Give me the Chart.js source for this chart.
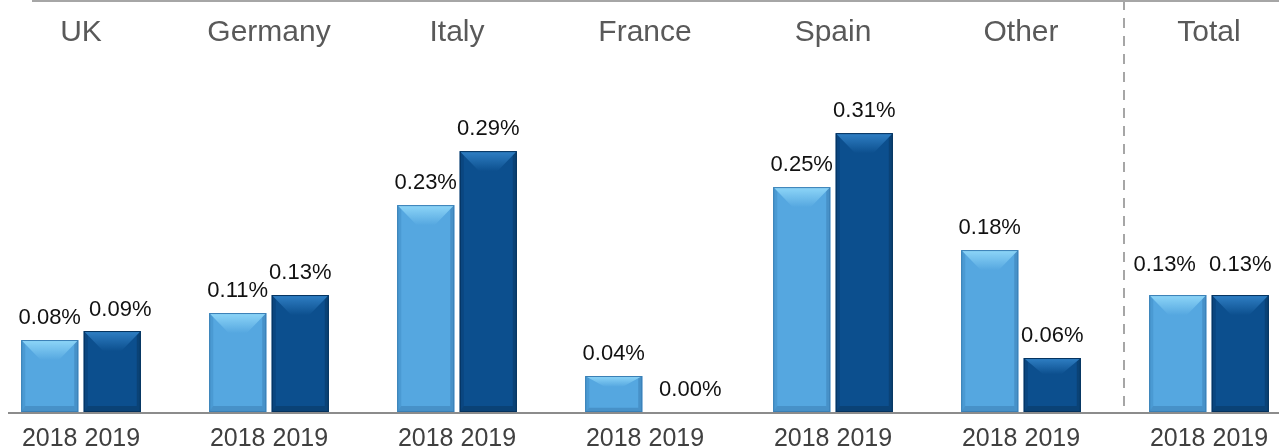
<!DOCTYPE html>
<html>
<head>
<meta charset="utf-8">
<script src="https://cdn.jsdelivr.net/npm/chart.js@4.4.0/dist/chart.umd.min.js"></script>
<style>
  html, body { margin: 0; padding: 0; background: #fff; overflow: hidden; }
  #wrap { position: absolute; left: -13px; top: 0; width: 1316px; height: 448px; }
</style>
</head>
<body>
<div id="wrap"><canvas id="myChart"></canvas></div>
<script>
// data
var categories = ['UK', 'Germany', 'Italy', 'France', 'Spain', 'Other', 'Total'];
var years = ['2018', '2019'];
var values2018 = [0.08, 0.11, 0.23, 0.04, 0.25, 0.18, 0.13];
var values2019 = [0.09, 0.13, 0.29, 0.00, 0.31, 0.06, 0.13];

var FONT = 'Arial, "Liberation Sans", sans-serif';

var palette = [
  { main: '#55a7e0', top: '#8ed6f8', side: '#4a9ad3', bottom: '#4791c8', border: '#3a7fb5' },
  { main: '#0c4f8e', top: '#3080c5', side: '#0a4680', bottom: '#0a4276', border: '#05325d' }
];

// hand nudges so neighbouring value labels don't collide ("dataset-index": [dx, dy])
var labelNudge = {
  '1-0': [8, 1],
  '1-3': [14, 0],
  '0-6': [-13, -8],
  '1-6': [0, -8]
};

function fmt(v) {
  return v.toFixed(2) + '%';
}

// bevelled bar look, drawn on top of the library's bars
var bevelPlugin = {
  id: 'bevel',
  afterDatasetsDraw: function (chart) {
    var ctx = chart.ctx;
    chart.data.datasets.forEach(function (ds, di) {
      var c = palette[di];
      chart.getDatasetMeta(di).data.forEach(function (bar) {
        var h = bar.base - bar.y;
        if (h < 1) return;
        var x0 = bar.x - bar.width / 2, x1 = bar.x + bar.width / 2;
        var top = bar.y, bot = bar.base;
        var d = Math.min(20, h * 0.3);
        var inset = bar.width * 0.34;
        var side = 4;
        var bd = Math.min(6, h * 0.12);
        ctx.save();
        // side faces
        ctx.fillStyle = c.side;
        ctx.fillRect(x0, top, side, h);
        ctx.fillStyle = c.bottom;
        ctx.fillRect(x1 - side, top, side, h);
        // bottom face
        ctx.beginPath();
        ctx.moveTo(x0, bot);
        ctx.lineTo(x1, bot);
        ctx.lineTo(x1 - side, bot - bd);
        ctx.lineTo(x0 + side, bot - bd);
        ctx.closePath();
        ctx.fillStyle = c.bottom;
        ctx.fill();
        // top face (the V)
        var g = ctx.createLinearGradient(0, top, 0, top + d);
        g.addColorStop(0, c.top);
        g.addColorStop(1, c.main);
        ctx.beginPath();
        ctx.moveTo(x0, top);
        ctx.lineTo(x1, top);
        ctx.lineTo(x1 - inset, top + d);
        ctx.lineTo(x0 + inset, top + d);
        ctx.closePath();
        ctx.fillStyle = g;
        ctx.fill();
        ctx.strokeStyle = c.border;
        ctx.lineWidth = 1;
        ctx.strokeRect(x0 + 0.5, top + 0.5, bar.width - 1, h - 1);
        ctx.restore();
      });
    });
  }
};

// lines, category names, year labels and value labels
var labelPlugin = {
  id: 'labels',
  afterDraw: function (chart) {
    var ctx = chart.ctx;
    var xs = chart.scales.x;
    var off = 13; // canvas sits 13px left of the page
    ctx.save();

    // top rule
    ctx.strokeStyle = '#a6a6a6';
    ctx.lineWidth = 2;
    ctx.beginPath();
    ctx.moveTo(32 + off, 1);
    ctx.lineTo(chart.width, 1);
    ctx.stroke();

    // baseline
    var base = chart.scales.y.getPixelForValue(0);
    ctx.strokeStyle = '#8c8c8c';
    ctx.beginPath();
    ctx.moveTo(8 + off, base + 1);
    ctx.lineTo(chart.width, base + 1);
    ctx.stroke();

    // dashed divider before Total
    var xd = (xs.getPixelForValue(5) + xs.getPixelForValue(6)) / 2 + 9;
    ctx.strokeStyle = '#a6a6a6';
    ctx.setLineDash([10, 8]);
    ctx.beginPath();
    ctx.moveTo(xd, 0);
    ctx.lineTo(xd, base);
    ctx.stroke();
    ctx.setLineDash([]);

    ctx.textAlign = 'center';
    ctx.textBaseline = 'alphabetic';
    categories.forEach(function (name, i) {
      var cx = xs.getPixelForValue(i);
      ctx.fillStyle = '#595959';
      ctx.font = '30px ' + FONT;
      ctx.fillText(name, cx, 41);
      ctx.fillStyle = '#404040';
      ctx.font = '25px ' + FONT;
      ctx.fillText(years.join(' '), cx, 446);
    });

    ctx.fillStyle = '#111';
    ctx.font = '22px ' + FONT;
    chart.data.datasets.forEach(function (ds, di) {
      chart.getDatasetMeta(di).data.forEach(function (bar, i) {
        var n = labelNudge[di + '-' + i] || [0, 0];
        ctx.fillText(fmt(ds.data[i]), bar.x + n[0], bar.y - 16 + n[1]);
      });
    });
    ctx.restore();
  }
};

var ctx = document.getElementById('myChart').getContext('2d');
var myChart = new Chart(ctx, {
  type: 'bar',
  data: {
    labels: categories,
    datasets: [
      { label: years[0], data: values2018, backgroundColor: palette[0].main },
      { label: years[1], data: values2019, backgroundColor: palette[1].main }
    ]
  },
  options: {
    responsive: true,
    maintainAspectRatio: false,
    animation: false,
    layout: { padding: { left: 0, right: 0, top: 0, bottom: 36 } },
    categoryPercentage: 0.665,
    barPercentage: 0.912,
    plugins: { legend: { display: false }, tooltip: { enabled: false } },
    scales: {
      x: { display: false },
      y: { display: false, min: 0, max: 0.458 }
    }
  },
  plugins: [bevelPlugin, labelPlugin]
});
</script>
</body>
</html>
